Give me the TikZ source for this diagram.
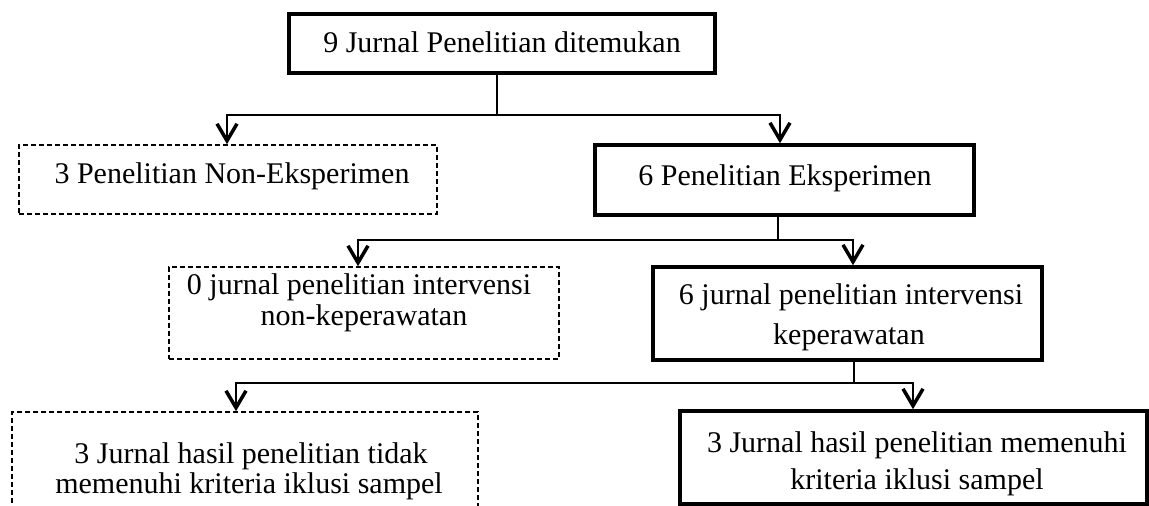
\documentclass[tikz,border=0pt]{standalone}
\usepackage{fontspec}
\setmainfont{Liberation Serif}
\usetikzlibrary{arrows.meta}
\tikzset{
  solidbox/.style={draw=black, line width=3.5pt, inner sep=0pt, rectangle},
  dashbox/.style={draw=black, line width=1.6pt, dash pattern=on 5pt off 3pt, inner sep=0pt, rectangle},
  txt/.style={inner sep=0pt, anchor=base, font=\fontsize{30}{36}\selectfont},
  conn/.style={draw=black, line width=2pt},
  arr/.style={conn, -{Straight Barb[length=17pt,width=20pt,line width=3.5pt]}},
}
\begin{document}
\begin{tikzpicture}[x=1pt,y=-1pt]
\clip (0,0) rectangle (1149,506);
\useasboundingbox (0,0) rectangle (1149,506);
% boxes
\node[solidbox, minimum width=426pt, minimum height=59pt] (top) at (502,43.5) {};
\node[dashbox, minimum width=418pt, minimum height=69pt] (A) at (228,179.5) {};
\node[solidbox, minimum width=379pt, minimum height=70pt] (B) at (784.5,180) {};
\node[dashbox, minimum width=390pt, minimum height=92pt] (C) at (364,313) {};
\node[solidbox, minimum width=389pt, minimum height=93pt] (D) at (847.5,313.5) {};
\node[dashbox, minimum width=466pt, minimum height=118pt] (E) at (245,471) {};
\node[solidbox, minimum width=467pt, minimum height=93pt] (F) at (913.5,457.5) {};
% texts
\node[txt] (topT) at (502,52) {9 Jurnal Penelitian ditemukan};
\node[txt] (AT) at (232,183) {3 Penelitian Non-Eksperimen};
\node[txt] (BT) at (785,185) {6 Penelitian Eksperimen};
\node[txt] (CT1) at (359,294) {0 jurnal penelitian intervensi};
\node[txt] (CT2) at (364,325) {non-keperawatan};
\node[txt] (DT1) at (851,304) {6 jurnal penelitian intervensi};
\node[txt] (DT2) at (849,344) {keperawatan};
\node[txt] (ET1) at (251,463) {3 Jurnal hasil penelitian tidak};
\node[txt] (ET2) at (249,493) {memenuhi kriteria iklusi sampel};
\node[txt] (FT1) at (917,452) {3 Jurnal hasil penelitian memenuhi};
\node[txt] (FT2) at (917,489) {kriteria iklusi sampel};
% connectors
\coordinate (b1) at (497,115);
\coordinate (b2) at (778,240);
\coordinate (b3) at (854,383);
\draw[conn] (top.south -| b1) -- (b1);
\draw[arr] (b1) -| ([xshift=-1pt]A.north);
\draw[arr] (b1) -| ([xshift=-4.5pt]B.north);
\draw[conn] (B.south -| b2) -- (b2);
\draw[arr] (b2) -| ([xshift=-6pt]C.north);
\draw[arr] (b2) -| ([xshift=5.5pt]D.north);
\draw[conn] (D.south -| b3) -- (b3);
\draw[arr] (b3) -| ([xshift=-9pt]E.north);
\draw[arr] (b3) -| ([xshift=-0.5pt]F.north);
\end{tikzpicture}
\end{document}
